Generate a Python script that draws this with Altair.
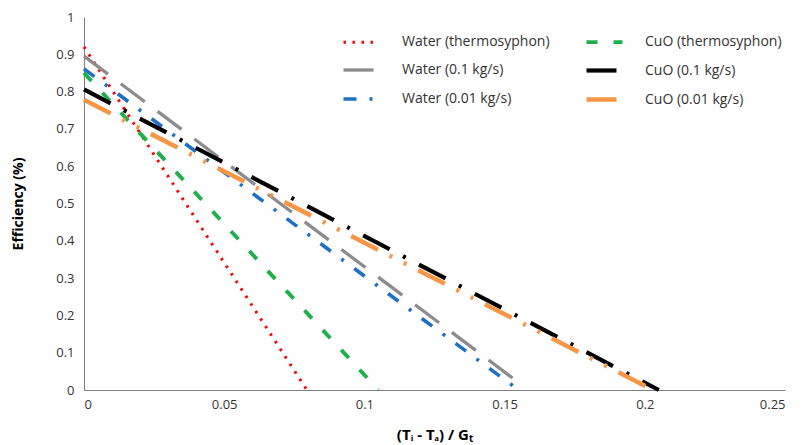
import altair as alt
import pandas as pd

series = ["Water (thermosyphon)", "Water (0.1 kg/s)", "Water (0.01 kg/s)",
          "CuO (thermosyphon)", "CuO (0.1 kg/s)", "CuO (0.01 kg/s)"]
x_start = [0, 0, 0, 0, 0, 0]
y_start = [0.92, 0.895, 0.861, 0.85, 0.806, 0.778]
x_end = [0.0795, 0.155, 0.155, 0.105, 0.205, 0.203]
y_end = [0.0, 0.02, 0.0, 0.0, 0.0, 0.0]
colors = ["#ff0000", "#8c8c8c", "#1f6fc5", "#1fb04c", "#000000", "#f79646"]
dashes = [[2.5, 6.5], [30, 16], [13, 13, 3, 13], [11, 16], [30, 15, 3, 15], [30, 13, 3, 13, 3, 13]]
widths = [3, 4.5, 4.5, 4.5, 4.5, 4.5]

rows = []
for i, s in enumerate(series):
    rows.append({"series": s, "x": x_start[i], "y": y_start[i], "order": 0})
    rows.append({"series": s, "x": x_end[i], "y": y_end[i], "order": 1})
df = pd.DataFrame(rows)

font = "Open Sans"
chart = alt.Chart(df).mark_line(strokeCap="butt").encode(
    x=alt.X("x:Q", scale=alt.Scale(domain=[0, 0.25], nice=False),
            axis=alt.Axis(title="(Tᵢ - Tₐ) / Gₜ", values=[0, 0.05, 0.1, 0.15, 0.2, 0.25],
                          format="~g", grid=False, ticks=False, labelPadding=8,
                          titlePadding=16, labelFontSize=13, titleFontSize=15)),
    y=alt.Y("y:Q", scale=alt.Scale(domain=[0, 1], nice=False),
            axis=alt.Axis(title="Efficiency (%)", values=[0, 0.1, 0.2, 0.3, 0.4, 0.5, 0.6, 0.7, 0.8, 0.9, 1],
                          format="~g", grid=False, ticks=False, labelPadding=10,
                          titlePadding=30, labelFontSize=13, titleFontSize=14)),
    color=alt.Color("series:N", scale=alt.Scale(domain=series, range=colors),
                    sort=series,
                    legend=alt.Legend(title=None, orient="none", legendX=257, legendY=5,
                                      columns=2, columnPadding=27, rowPadding=-14,
                                      symbolType="stroke", symbolSize=1296, symbolStrokeWidth=4,
                                      labelFontSize=14, labelOffset=20)),
    strokeDash=alt.StrokeDash("series:N", scale=alt.Scale(domain=series, range=dashes),
                              sort=series, legend=None),
    strokeWidth=alt.StrokeWidth("series:N", scale=alt.Scale(domain=series, range=widths),
                                legend=None),
    detail="series:N",
    order="order:Q",
).properties(width=701, height=373).configure(
    autosize=alt.AutoSizeParams(type="none"),
    padding={"left": 84, "top": 17, "right": 16, "bottom": 55},
    font=font,
).configure_axis(
    domainColor="#808080", labelColor="#333333", titleColor="#000000",
    labelFont=font, titleFont=font,
).configure_legend(labelFont=font, labelColor="#333333").configure_view(stroke=None)

chart.save("out.html", embed_options={"renderer": "svg", "actions": False})
